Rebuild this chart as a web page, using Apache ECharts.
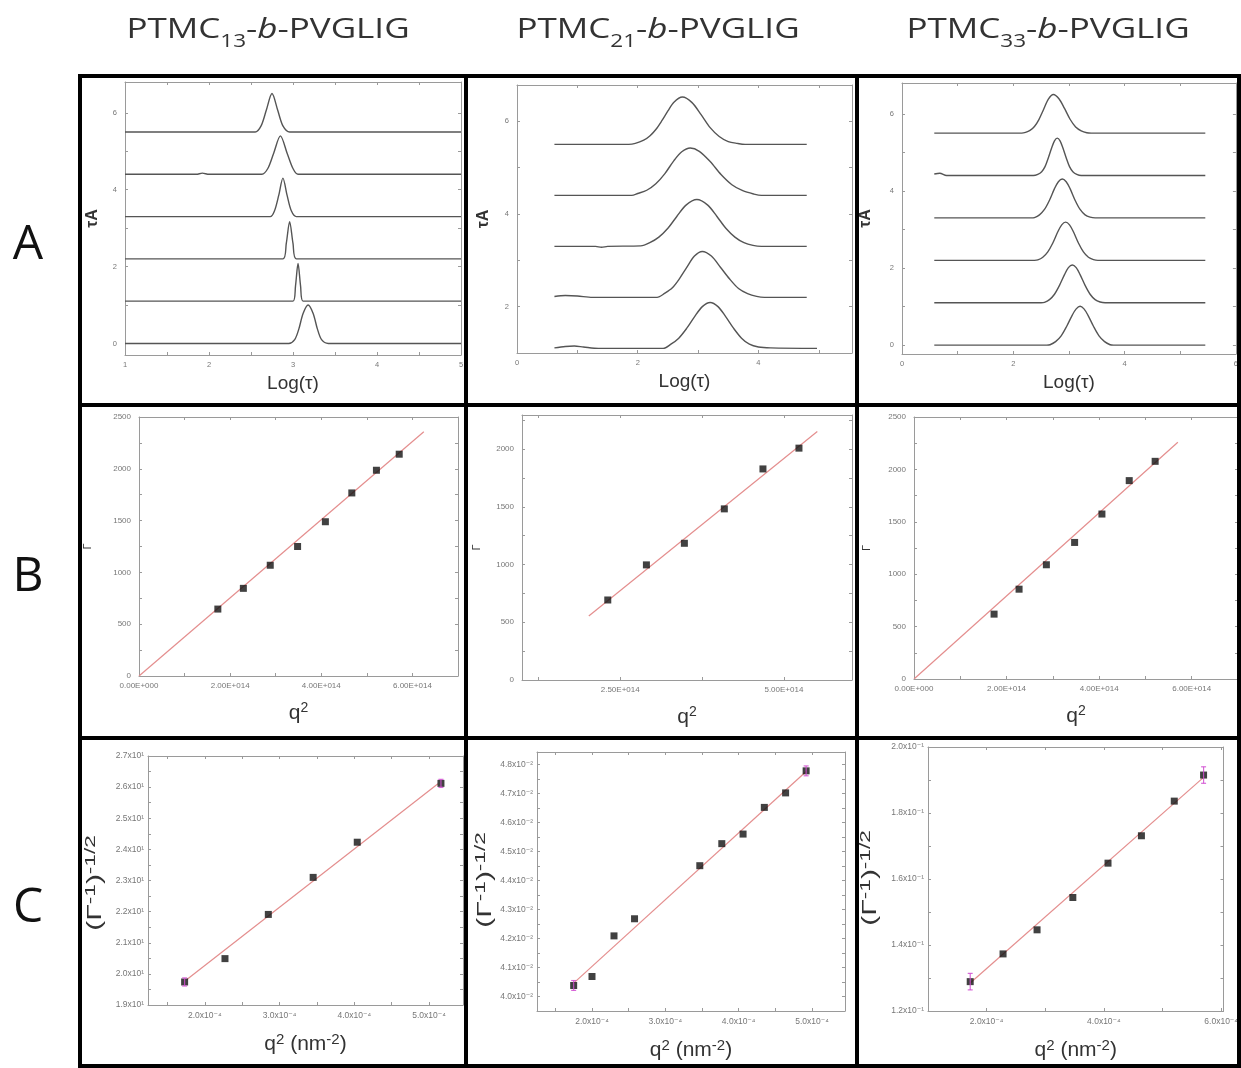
<!DOCTYPE html>
<html><head><meta charset="utf-8">
<script src="https://cdn.jsdelivr.net/npm/echarts@6/dist/echarts.min.js"></script>
<style>html,body{margin:0;padding:0;background:#fff}#c{width:1241px;height:1068px}</style>
</head><body><div id="c"></div>
<script>
// ================= DATA =================
const columnSubscripts = ['13', '21', '33'];
const rowLetters = ['A', 'B', 'C'];

// ---- Row A: τA vs Log(τ), stacked distributions ([Log(τ), τA]) ----
const a1Trace0 = [[1,0],[2.95,0],[3.02,0.1],[3.07,0.38],[3.12,0.78],[3.18,1.0],[3.24,0.78],[3.29,0.38],[3.34,0.1],[3.42,0],[5,0]];
const a1Trace1 = [[1,1.1],[3.0,1.1],[3.03,1.5],[3.06,2.08],[3.09,1.5],[3.12,1.1],[5,1.1]];
const a1Trace2 = [[1,2.2],[2.88,2.2],[2.92,2.6],[2.96,3.17],[3.0,2.6],[3.04,2.2],[5,2.2]];
const a1Trace3 = [[1,3.3],[2.73,3.3],[2.78,3.45],[2.83,3.85],[2.88,4.3],[2.93,3.85],[2.98,3.45],[3.04,3.3],[5,3.3]];
const a1Trace4 = [[1,4.4],[1.85,4.4],[1.92,4.43],[2.0,4.4],[2.63,4.4],[2.7,4.55],[2.77,4.95],[2.85,5.4],[2.93,4.95],[3.0,4.55],[3.06,4.4],[5,4.4]];
const a1Trace5 = [[1,5.5],[2.55,5.5],[2.62,5.66],[2.68,6.05],[2.75,6.5],[2.82,6.05],[2.88,5.66],[2.96,5.5],[5,5.5]];

const a2Trace1 = [[0.62,1.11],[0.8,1.14],[0.95,1.15],[1.1,1.13],[1.35,1.1],[2.42,1.1],[2.55,1.19],[2.68,1.32],[2.81,1.53],[2.94,1.78],[3.07,2.0],[3.2,2.09],[3.33,2.0],[3.46,1.78],[3.59,1.53],[3.72,1.32],[3.85,1.19],[4.0,1.13],[4.2,1.11],[4.97,1.1]];
const a2Trace2 = [[0.62,2.22],[0.8,2.24],[1.0,2.23],[1.25,2.2],[2.32,2.2],[2.45,2.29],[2.57,2.4],[2.69,2.6],[2.81,2.84],[2.94,3.09],[3.07,3.19],[3.22,3.09],[3.37,2.85],[3.52,2.6],[3.67,2.39],[3.82,2.28],[3.97,2.22],[4.1,2.2],[4.8,2.2]];
const a2Trace3 = [[0.62,3.3],[1.3,3.3],[1.4,3.28],[1.5,3.3],[2.05,3.31],[2.2,3.38],[2.35,3.5],[2.5,3.69],[2.65,3.95],[2.8,4.19],[2.98,4.31],[3.16,4.19],[3.31,3.95],[3.46,3.69],[3.61,3.5],[3.76,3.38],[3.91,3.32],[4.05,3.3],[4.8,3.3]];
const a2Trace4 = [[0.62,4.4],[1.9,4.4],[2.0,4.44],[2.15,4.51],[2.3,4.65],[2.45,4.87],[2.6,5.15],[2.73,5.34],[2.87,5.42],[3.02,5.35],[3.2,5.13],[3.38,4.85],[3.56,4.63],[3.74,4.5],[3.92,4.43],[4.05,4.4],[4.8,4.4]];
const a2Trace5 = [[0.62,5.5],[1.85,5.5],[1.96,5.52],[2.1,5.59],[2.2,5.68],[2.3,5.82],[2.4,6.01],[2.5,6.22],[2.6,6.41],[2.74,6.52],[2.9,6.4],[3.05,6.14],[3.2,5.86],[3.35,5.67],[3.5,5.56],[3.65,5.52],[3.78,5.5],[4.8,5.5]];

const a3Trace0 = [[0.58,0],[2.6,0],[2.66,0.01],[2.76,0.09],[2.86,0.24],[2.96,0.49],[3.06,0.78],[3.13,0.94],[3.2,1.01],[3.27,0.94],[3.34,0.78],[3.44,0.49],[3.54,0.24],[3.64,0.09],[3.74,0.01],[3.8,0],[5.45,0]];
const a3Trace1 = [[0.58,1.1],[2.5,1.1],[2.56,1.11],[2.65,1.18],[2.74,1.32],[2.83,1.55],[2.92,1.83],[2.99,2.01],[3.06,2.08],[3.13,2.01],[3.2,1.83],[3.29,1.55],[3.38,1.32],[3.47,1.18],[3.56,1.12],[3.65,1.1],[5.45,1.1]];
const a3Trace2 = [[0.58,2.2],[2.38,2.2],[2.44,2.21],[2.53,2.28],[2.62,2.42],[2.71,2.65],[2.8,2.94],[2.87,3.12],[2.94,3.19],[3.01,3.12],[3.08,2.94],[3.17,2.65],[3.26,2.42],[3.35,2.28],[3.44,2.22],[3.52,2.2],[5.45,2.2]];
const a3Trace3 = [[0.58,3.3],[2.32,3.3],[2.38,3.31],[2.47,3.38],[2.56,3.52],[2.65,3.76],[2.74,4.06],[2.81,4.24],[2.88,4.31],[2.95,4.24],[3.02,4.06],[3.11,3.76],[3.2,3.52],[3.29,3.38],[3.38,3.32],[3.47,3.3],[5.45,3.3]];
const a3Trace4 = [[0.58,4.44],[0.68,4.46],[0.8,4.4],[2.36,4.4],[2.44,4.43],[2.51,4.5],[2.57,4.63],[2.63,4.86],[2.69,5.12],[2.74,5.3],[2.79,5.37],[2.84,5.3],[2.89,5.12],[2.95,4.86],[3.01,4.63],[3.07,4.5],[3.14,4.43],[3.22,4.4],[5.45,4.4]];
const a3Trace5 = [[0.58,5.5],[2.15,5.5],[2.22,5.52],[2.3,5.57],[2.38,5.67],[2.46,5.85],[2.54,6.1],[2.63,6.38],[2.72,6.5],[2.82,6.39],[2.92,6.14],[3.02,5.86],[3.12,5.66],[3.22,5.56],[3.32,5.51],[3.4,5.5],[5.45,5.5]];

// ---- Row B: Γ vs q² ----
const b1Q2 = [1.73e14, 2.29e14, 2.88e14, 3.48e14, 4.09e14, 4.67e14, 5.21e14, 5.71e14];
const b1Gamma = [646, 846, 1069, 1250, 1489, 1767, 1986, 2141];
const b1Fit = [[0, 0], [6.25e14, 2357]];

const b2Q2 = [2.31e14, 2.90e14, 3.48e14, 4.09e14, 4.68e14, 5.23e14];
const b2Gamma = [693, 997, 1184, 1482, 1828, 2008];
const b2Fit = [[2.02e14, 555], [5.51e14, 2152]];

const b3Q2 = [1.73e14, 2.27e14, 2.86e14, 3.47e14, 4.06e14, 4.65e14, 5.21e14];
const b3Gamma = [619, 857, 1090, 1303, 1574, 1893, 2077];
const b3Fit = [[0, 0], [5.70e14, 2259]];

// ---- Row C: (Γ⁻¹)^-1/2 vs q² (nm⁻²) ----
const c1Q2 = [1.73e-4, 2.27e-4, 2.85e-4, 3.45e-4, 4.04e-4, 5.16e-4];
const c1Y = [1.974, 2.049, 2.191, 2.310, 2.423, 2.612];
const c1Err = [0.013, 0, 0, 0, 0, 0.013];
const c1Fit = [[1.76e-4, 1.982], [5.12e-4, 2.611]];

const c2Q2 = [1.75e-4, 2.00e-4, 2.30e-4, 2.58e-4, 3.47e-4, 3.77e-4, 4.06e-4, 4.35e-4, 4.64e-4, 4.92e-4];
const c2Y = [4.038, 4.069, 4.209, 4.268, 4.451, 4.527, 4.560, 4.652, 4.702, 4.778];
const c2Err = [0.017, 0, 0, 0, 0, 0, 0, 0, 0, 0.017];
const c2Fit = [[1.75e-4, 4.046], [4.92e-4, 4.776]];

const c3Q2 = [1.72e-4, 2.28e-4, 2.86e-4, 3.47e-4, 4.07e-4, 4.64e-4, 5.20e-4, 5.70e-4];
const c3Y = [1.289, 1.373, 1.446, 1.544, 1.648, 1.731, 1.836, 1.915];
const c3Err = [0.025, 0, 0, 0, 0, 0, 0, 0.025];
const c3Fit = [[1.72e-4, 1.285], [5.70e-4, 1.908]];

// ---- tick labels ----
const a1XLabels = [1, 2, 3, 4, 5], a1YLabels = [0, 2, 4, 6];
const a2XLabels = [0, 2, 4], a2YLabels = [2, 4, 6];
const a3XLabels = [0, 2, 4, 6], a3YLabels = [0, 2, 4, 6];
const b1XLabels = [0, 2e14, 4e14, 6e14], b1YLabels = [0, 500, 1000, 1500, 2000, 2500];
const b2XLabels = [2.5e14, 5e14], b2YLabels = [0, 500, 1000, 1500, 2000];
const b3XLabels = [0, 2e14, 4e14, 6e14], b3YLabels = [0, 500, 1000, 1500, 2000, 2500];
const c1XLabels = [2e-4, 3e-4, 4e-4, 5e-4], c1YLabels = [1.9, 2.0, 2.1, 2.2, 2.3, 2.4, 2.5, 2.6, 2.7];
const c2XLabels = [2e-4, 3e-4, 4e-4, 5e-4], c2YLabels = [4.0, 4.1, 4.2, 4.3, 4.4, 4.5, 4.6, 4.7, 4.8];
const c3XLabels = [2e-4, 4e-4, 6e-4], c3YLabels = [1.2, 1.4, 1.6, 1.8, 2.0];

// ================= helpers =================
const FONT = 'Liberation Sans, Arial, DejaVu Sans, sans-serif';
const TFONT = 'Open Sans, Noto Sans, sans-serif';
function tickList(min, max, step, start) {
  const out = [], tol = step * 1e-6;
  for (let k = 0; ; k++) {
    const v = start + k * step;
    if (v > max + tol) break;
    if (v >= min - tol) out.push(+v.toPrecision(12));
  }
  return out;
}
const fmtPlain = v => String(v);
const fmtE = v => {
  if (v === 0) return '0.00E+000';
  const e = Math.floor(Math.log10(v) + 1e-9);
  return (v / Math.pow(10, e)).toFixed(2) + 'E+' + String(e).padStart(3, '0');
};
const fmtCx = v => (v / 1e-4).toFixed(1) + 'x10⁻⁴';
const fmtCy = sup => v => v.toFixed(1) + 'x10' + sup;

const traceStyle = {type: 'line', smooth: 0.3, symbol: 'none', lineStyle: {color: '#555', width: 1.4}, silent: true};
const fitStyle = {type: 'line', symbol: 'none', lineStyle: {color: '#e48e8e', width: 1.2}, silent: true, z: 1};
const ptStyle = {type: 'scatter', symbol: 'rect', symbolSize: 7, itemStyle: {color: '#111'}, z: 3, silent: true};

const zip = (xs, ys) => xs.map((x, i) => [x, ys[i]]);
const zip3 = (xs, ys, es) => xs.map((x, i) => [x, ys[i], es[i]]).filter(d => d[2] > 0);

const panels = [
  // Row A
  {grid: {left: 125, top: 82, width: 336, height: 273},
   x: {min: 1, max: 5, labels: a1XLabels, ticks: tickList(1, 5, 0.5, 1), fmt: fmtPlain},
   y: {min: -0.3, max: 6.8, labels: a1YLabels, ticks: tickList(-0.3, 6.8, 1, 0), fmt: fmtPlain},
   xName: 'Log(τ)', yName: 'τA', kind: 'A', yGap: 24,
   traces: [a1Trace0, a1Trace1, a1Trace2, a1Trace3, a1Trace4, a1Trace5]},
  {grid: {left: 517, top: 85, width: 335, height: 268},
   x: {min: 0, max: 5.55, labels: a2XLabels, ticks: tickList(0, 5.55, 1, 0), fmt: fmtPlain},
   y: {min: 1.0, max: 6.78, labels: a2YLabels, ticks: tickList(1.0, 6.78, 1, 1), fmt: fmtPlain},
   xName: 'Log(τ)', yName: 'τA', kind: 'A', yGap: 25,
   traces: [a2Trace1, a2Trace2, a2Trace3, a2Trace4, a2Trace5]},
  {grid: {left: 902, top: 83, width: 334, height: 271},
   x: {min: 0, max: 6, labels: a3XLabels, ticks: tickList(0, 6, 1, 0), fmt: fmtPlain},
   y: {min: -0.23, max: 6.8, labels: a3YLabels, ticks: tickList(-0.23, 6.8, 1, 0), fmt: fmtPlain},
   xName: 'Log(τ)', yName: 'τA', kind: 'A', yGap: 28,
   traces: [a3Trace0, a3Trace1, a3Trace2, a3Trace3, a3Trace4, a3Trace5]},
  // Row B
  {grid: {left: 139, top: 417, width: 319, height: 259},
   x: {min: 0, max: 7e14, labels: b1XLabels, ticks: tickList(0, 7e14, 1e14, 0), fmt: fmtE},
   y: {min: 0, max: 2500, labels: b1YLabels, ticks: tickList(0, 2500, 250, 0), fmt: fmtPlain},
   xName: 'q{s|2}', yName: 'Γ', kind: 'B', yGap: 46,
   pts: zip(b1Q2, b1Gamma), fit: b1Fit},
  {grid: {left: 522, top: 415, width: 330, height: 265},
   x: {min: 1e14, max: 6.04e14, labels: b2XLabels, ticks: tickList(1e14, 6.04e14, 1.25e14, 0), fmt: fmtE},
   y: {min: 0, max: 2295, labels: b2YLabels, ticks: tickList(0, 2295, 250, 0), fmt: fmtPlain},
   xName: 'q{s|2}', yName: 'Γ', kind: 'B', yGap: 40,
   pts: zip(b2Q2, b2Gamma), fit: b2Fit},
  {grid: {left: 914, top: 417, width: 324, height: 262},
   x: {min: 0, max: 7e14, labels: b3XLabels, ticks: tickList(0, 7e14, 1e14, 0), fmt: fmtE},
   y: {min: 0, max: 2500, labels: b3YLabels, ticks: tickList(0, 2500, 250, 0), fmt: fmtPlain},
   xName: 'q{s|2}', yName: 'Γ', kind: 'B', yGap: 42,
   pts: zip(b3Q2, b3Gamma), fit: b3Fit},
  // Row C
  {grid: {left: 148, top: 756, width: 315, height: 249},
   x: {min: 1.24e-4, max: 5.455e-4, labels: c1XLabels, ticks: tickList(1.24e-4, 5.455e-4, 0.5e-4, 0), fmt: fmtCx},
   y: {min: 1.9, max: 2.7, labels: c1YLabels, ticks: tickList(1.9, 2.7, 0.05, 1.9), fmt: fmtCy('¹')},
   xName: 'q{s|2} (nm{s|-2})', kind: 'C', yTitlePos: [95, 883],
   pts: zip(c1Q2, c1Y), fit: c1Fit, err: zip3(c1Q2, c1Y, c1Err)},
  {grid: {left: 537, top: 752, width: 308, height: 259},
   x: {min: 1.25e-4, max: 5.45e-4, labels: c2XLabels, ticks: tickList(1.25e-4, 5.45e-4, 0.5e-4, 0), fmt: fmtCx},
   y: {min: 3.95, max: 4.843, labels: c2YLabels, ticks: tickList(3.95, 4.843, 0.05, 3.95), fmt: fmtCy('⁻²')},
   xName: 'q{s|2} (nm{s|-2})', kind: 'C', yTitlePos: [485, 880],
   pts: zip(c2Q2, c2Y), fit: c2Fit, err: zip3(c2Q2, c2Y, c2Err)},
  {grid: {left: 928, top: 747, width: 310, height: 264},
   x: {min: 1.0e-4, max: 6.04e-4, labels: c3XLabels, ticks: tickList(1.0e-4, 6.04e-4, 1e-4, 0), fmt: fmtCx},
   y: {min: 1.2, max: 2.0, labels: c3YLabels, ticks: tickList(1.2, 2.0, 0.1, 1.2), fmt: fmtCy('⁻¹')},
   xName: 'q{s|2} (nm{s|-2})', kind: 'C', yTitlePos: [870, 878],
   pts: zip(c3Q2, c3Y), fit: c3Fit, err: zip3(c3Q2, c3Y, c3Err)}
];

// ================= build option =================
const grids = [], xAxes = [], yAxes = [], series = [], graphic = [];
const axisCol = '#9a9a9a';
const labelSize = {A: 7.5, B: 8, C: 8.5};
const supRich = (fs) => ({s: {fontSize: fs, lineHeight: fs, verticalAlign: 'top', color: '#333', fontFamily: FONT}});
panels.forEach((p, i) => {
  grids.push(Object.assign({containLabel: false}, p.grid));
  const nameStyles = {
    A: {x: {fontSize: 19, color: '#333', fontFamily: FONT}, xGap: 19,
        y: {fontSize: 16, color: '#333', fontFamily: FONT, fontWeight: 'bold'}},
    B: {x: {fontSize: 21, color: '#333', fontFamily: FONT, lineHeight: 24, rich: supRich(14)}, xGap: 25,
        y: {fontSize: 11, color: '#333', fontFamily: FONT}},
    C: {x: {fontSize: 21, color: '#333', fontFamily: FONT, lineHeight: 25, rich: supRich(15)}, xGap: 27}
  }[p.kind];
  const base = (ax) => ({
    type: 'value', gridIndex: i, min: ax.min, max: ax.max, scale: true,
    splitLine: {show: false},
    axisLine: {show: true, onZero: false, lineStyle: {color: axisCol, width: 1}},
    axisTick: {show: true, inside: true, length: 3, customValues: ax.ticks, lineStyle: {color: axisCol}},
    axisLabel: {show: true, customValues: ax.labels, formatter: ax.fmt, fontSize: labelSize[p.kind], color: '#777', fontFamily: FONT}
  });
  const xa = base(p.x);
  xa.position = 'bottom';
  xa.axisLabel.margin = 6;
  xa.name = p.xName; xa.nameLocation = 'middle'; xa.nameGap = nameStyles.xGap; xa.nameTextStyle = nameStyles.x;
  const xb = base(p.x);
  xb.position = 'top'; xb.axisLabel = {show: false};
  const ya = base(p.y);
  ya.position = 'left';
  ya.axisLabel.margin = p.kind === 'C' ? 4 : 8;
  if (p.yName) {
    ya.name = p.yName; ya.nameLocation = 'middle'; ya.nameRotate = 90; ya.nameGap = p.yGap; ya.nameTextStyle = nameStyles.y;
  }
  const yb = base(p.y);
  yb.position = 'right'; yb.axisLabel = {show: false};
  xAxes.push(xa, xb);
  yAxes.push(ya, yb);
  const xi = 2 * i, yi = 2 * i;
  if (p.traces) {
    p.traces.forEach(t => series.push(Object.assign({}, traceStyle, {xAxisIndex: xi, yAxisIndex: yi, data: t})));
  }
  if (p.fit) series.push(Object.assign({}, fitStyle, {xAxisIndex: xi, yAxisIndex: yi, data: p.fit}));
  if (p.pts) series.push(Object.assign({}, ptStyle, {xAxisIndex: xi, yAxisIndex: yi, data: p.pts}));
  if (p.err && p.err.length) {
    series.push({
      type: 'custom', xAxisIndex: xi, yAxisIndex: yi, data: p.err, z: 4, silent: true,
      renderItem: (params, api) => {
        const x = api.value(0), y = api.value(1), e = api.value(2);
        const top = api.coord([x, y + e]), bot = api.coord([x, y - e]);
        const st = {stroke: '#d14fd1', lineWidth: 1.2, opacity: 0.85};
        return {type: 'group', children: [
          {type: 'line', shape: {x1: top[0], y1: top[1], x2: bot[0], y2: bot[1]}, style: st},
          {type: 'line', shape: {x1: top[0] - 2.5, y1: top[1], x2: top[0] + 2.5, y2: top[1]}, style: st},
          {type: 'line', shape: {x1: bot[0] - 2.5, y1: bot[1], x2: bot[0] + 2.5, y2: bot[1]}, style: st}
        ]};
      }
    });
  }
  if (p.yTitlePos) {
    graphic.push({type: 'text', x: p.yTitlePos[0], y: p.yTitlePos[1], rotation: Math.PI / 2, scaleX: 1.5, z: 50, style: {
      text: '(Γ{s|-1}){s|-1/2}', fontSize: 20, fontFamily: FONT, fill: '#333', align: 'center', verticalAlign: 'middle', lineHeight: 24,
      rich: {s: {fontSize: 15, lineHeight: 15, verticalAlign: 'top', fill: '#333', fontFamily: FONT}}}});
  }
});

// ---- frame lines, titles, row letters ----
const lineSt = {stroke: '#000', lineWidth: 4};
[[80, 74, 80, 1068], [466, 74, 466, 1068], [857, 74, 857, 1068], [1239, 74, 1239, 1068],
 [78, 76, 1241, 76], [78, 405, 1241, 405], [78, 738, 1241, 738], [78, 1066, 1241, 1066]]
 .forEach(s => graphic.push({type: 'line', shape: {x1: s[0], y1: s[1], x2: s[2], y2: s[3]}, style: lineSt, z: 100}));
const titleX = [268, 658, 1048];
columnSubscripts.forEach((sub, i) => {
  graphic.push({type: 'text', x: titleX[i], y: 30, scaleX: 1.25, z: 100, style: {
    text: 'PTMC{sub|' + sub + '}-{it|b}-PVGLIG', fontSize: 28, fontFamily: TFONT,
    fill: '#333', align: 'center', verticalAlign: 'middle', lineHeight: 42,
    rich: {
      sub: {fontSize: 18, lineHeight: 18, verticalAlign: 'bottom', fill: '#333', fontFamily: TFONT},
      it: {fontSize: 28, lineHeight: 42, fontStyle: 'italic', fill: '#333', fontFamily: TFONT}
    }}});
});
const rowY = [245, 577, 908];
rowLetters.forEach((L, i) => graphic.push({type: 'text', x: 28, y: rowY[i], z: 100, style: {
  text: L, fontSize: 48, fontFamily: TFONT, fill: '#111', align: 'center', verticalAlign: 'middle'}}));

const chart = echarts.init(document.getElementById('c'), null, {renderer: 'canvas', width: 1241, height: 1068});
chart.setOption({
  backgroundColor: '#fff', animation: false,
  grid: grids, xAxis: xAxes, yAxis: yAxes, series: series, graphic: graphic
});
</script></body></html>
